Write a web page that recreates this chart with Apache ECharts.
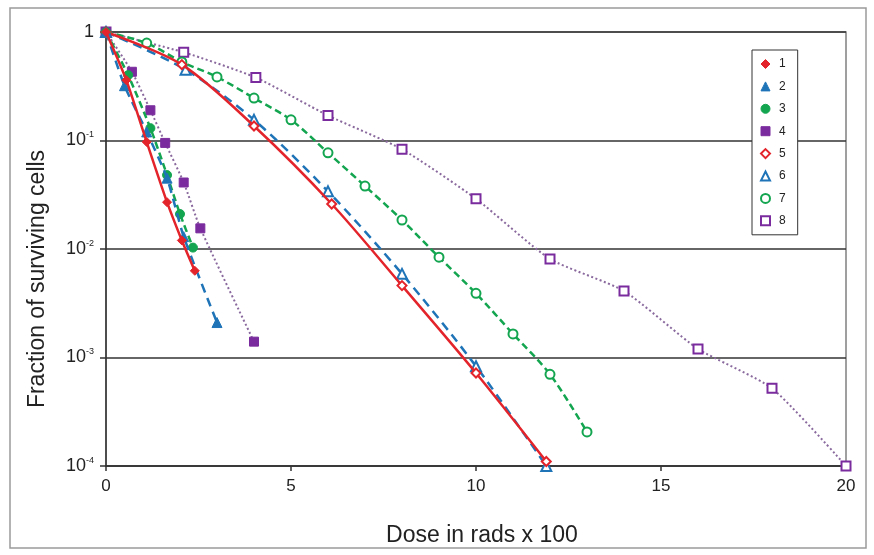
<!DOCTYPE html>
<html>
<head>
<meta charset="utf-8">
<script src="https://cdn.jsdelivr.net/npm/echarts@6/dist/echarts.min.js"></script>
<style>
  html, body { margin: 0; padding: 0; background: #fff; }
  #chart { width: 874px; height: 555px; }
</style>
</head>
<body>
<div id="chart"></div>
<script>
// ---- data ----
const seriesNames = ['1', '2', '3', '4', '5', '6', '7', '8'];

const s1x = [0, 0.55, 1.1, 1.65, 2.05, 2.4];
const s1y = [1, 0.36, 0.097, 0.027, 0.012, 0.0063];

const s2x = [0, 0.5, 1.1, 1.65, 2.1, 3.0];
const s2y = [1, 0.32, 0.12, 0.045, 0.013, 0.0021];

const s3x = [0, 0.6, 1.2, 1.65, 2.0, 2.35];
const s3y = [1, 0.4, 0.13, 0.048, 0.021, 0.0103];

const s4x = [0, 0.7, 1.2, 1.6, 2.1, 2.55, 4.0];
const s4y = [1, 0.43, 0.19, 0.095, 0.041, 0.0155, 0.0014];

const s5x = [0, 2.05, 4.0, 6.1, 8.0, 10.0, 11.9];
const s5y = [1, 0.5, 0.136, 0.026, 0.0046, 0.00072, 0.00011];

const s6x = [0, 2.15, 4.0, 6.0, 8.0, 10.0, 11.9];
const s6y = [1, 0.45, 0.155, 0.034, 0.0059, 0.00083, 0.0001];

const s7x = [0, 1.1, 2.05, 3, 4, 5, 6, 7, 8, 9, 10, 11, 12, 13];
const s7y = [1, 0.79, 0.53, 0.385, 0.246, 0.155, 0.077, 0.038, 0.0185, 0.0084, 0.0039, 0.00165, 0.0007, 0.000206];

const s8x = [0, 2.1, 4.05, 6.0, 8.0, 10.0, 12.0, 14.0, 16.0, 18.0, 20.0];
const s8y = [1, 0.65, 0.38, 0.17, 0.083, 0.029, 0.0081, 0.0041, 0.0012, 0.00052, 0.0001];

const xTicks = [0, 5, 10, 15, 20];
const yTickExponents = [0, -1, -2, -3, -4];

// ---- styling ----
const RED = '#e3242b', BLUE = '#1f74b8', GREEN = '#14a550', PURPLE = '#7a2c9e', PURPLE_LINE = '#8a6a9e';

const spec = [
  { x: s1x, y: s1y, color: RED, line: RED, symbol: 'diamond', open: false, type: 'solid', width: 2.5, smooth: 0.2 },
  { x: s2x, y: s2y, color: BLUE, line: BLUE, symbol: 'triangle', open: false, type: [9, 6], width: 2.5, smooth: 0.2 },
  { x: s3x, y: s3y, color: GREEN, line: GREEN, symbol: 'circle', open: false, type: [7, 4], width: 2.5, smooth: 0.2 },
  { x: s4x, y: s4y, color: PURPLE, line: PURPLE_LINE, symbol: 'rect', open: false, type: [2, 2.5], width: 2, smooth: 0.2 },
  { x: s5x, y: s5y, color: RED, line: RED, symbol: 'diamond', open: true, type: 'solid', width: 2.5, smooth: 0.3 },
  { x: s6x, y: s6y, color: BLUE, line: BLUE, symbol: 'triangle', open: true, type: [9, 6], width: 2.5, smooth: 0.3 },
  { x: s7x, y: s7y, color: GREEN, line: GREEN, symbol: 'circle', open: true, type: [7, 4], width: 2.5, smooth: 0.3 },
  { x: s8x, y: s8y, color: PURPLE, line: PURPLE_LINE, symbol: 'rect', open: true, type: [2, 2.5], width: 2, smooth: 0.2 }
];

function itemStyleFor(s) {
  return s.open
    ? { color: '#ffffff', borderColor: s.color, borderWidth: 2 }
    : { color: s.color, borderColor: s.color, borderWidth: 1 };
}

const series = spec.map((s, i) => ({
  name: seriesNames[i],
  type: 'line',
  data: s.x.map((xv, j) => [xv, s.y[j]]),
  symbol: s.symbol,
  symbolSize: s.symbol === 'triangle' ? 10 : 9,
  smooth: s.smooth,
  itemStyle: itemStyleFor(s),
  lineStyle: { color: s.line, width: s.width, type: s.type },
  emphasis: { disabled: true },
  z: 10 - i
}));

const FONT = 'Liberation Sans, Arial, sans-serif';

const option = {
  animation: false,
  backgroundColor: '#ffffff',
  textStyle: { fontFamily: FONT },
  graphic: [{
    type: 'rect',
    shape: { x: 10, y: 8, width: 856, height: 540 },
    style: { fill: 'none', stroke: '#9a9a9a', lineWidth: 1.5 },
    silent: true
  }],
  grid: {
    left: 106, right: 28, top: 32, bottom: 89,
    show: true, borderColor: '#808080', borderWidth: 1.5, backgroundColor: 'transparent'
  },
  legend: {
    orient: 'vertical',
    left: 752, top: 50,
    selectedMode: false,
    backgroundColor: '#fff',
    borderColor: '#333',
    borderWidth: 1,
    padding: [7, 12, 7, 8],
    itemWidth: 9, itemHeight: 9,
    itemGap: 8.4,
    textStyle: { fontSize: 12, color: '#222', fontFamily: FONT, padding: [0, 0, 0, 4], lineHeight: 14 },
    data: spec.map((s, i) => ({
      name: seriesNames[i],
      icon: s.symbol,
      itemStyle: itemStyleFor(s)
    }))
  },
  xAxis: {
    type: 'value',
    min: xTicks[0], max: xTicks[xTicks.length - 1], interval: xTicks[1] - xTicks[0],
    name: 'Dose in rads x 100',
    nameLocation: 'middle',
    nameGap: 58,
    nameTextStyle: { fontSize: 23, color: '#222', fontFamily: FONT, padding: [0, 0, 0, 12] },
    axisLine: { show: true, lineStyle: { color: '#333', width: 1.5 } },
    axisTick: { show: true, length: 5, lineStyle: { color: '#333', width: 1.5 } },
    axisLabel: { fontSize: 17, color: '#222', margin: 12, fontFamily: FONT },
    splitLine: { show: false }
  },
  yAxis: {
    type: 'log',
    logBase: 10,
    min: Math.pow(10, Math.min(...yTickExponents)),
    max: Math.pow(10, Math.max(...yTickExponents)),
    name: 'Fraction of surviving cells',
    nameLocation: 'middle',
    nameGap: 57,
    nameTextStyle: { fontSize: 23, color: '#222', fontFamily: FONT, padding: [0, 60, 0, 0] },
    axisLine: { show: true, lineStyle: { color: '#333', width: 1.5 } },
    axisTick: { show: true, length: 6, lineStyle: { color: '#333', width: 1.5 } },
    axisLabel: {
      margin: 12,
      color: '#222',
      fontFamily: FONT,
      formatter: function (v) {
        const e = Math.round(Math.log10(v));
        if (e === 0) return '{b|1}';
        return '{b|10}{s|' + e + '}';
      },
      rich: {
        b: { fontSize: 18, color: '#222', fontFamily: FONT, lineHeight: 20 },
        s: { fontSize: 9, color: '#222', fontFamily: FONT, verticalAlign: 'top', lineHeight: 20, padding: [0, 0, 8, 0] }
      }
    },
    splitLine: { show: true, lineStyle: { color: '#333', width: 1.5 } }
  },
  series: series
};

const chart = echarts.init(document.getElementById('chart'), null, { renderer: 'canvas' });
chart.setOption(option);
</script>
</body>
</html>
